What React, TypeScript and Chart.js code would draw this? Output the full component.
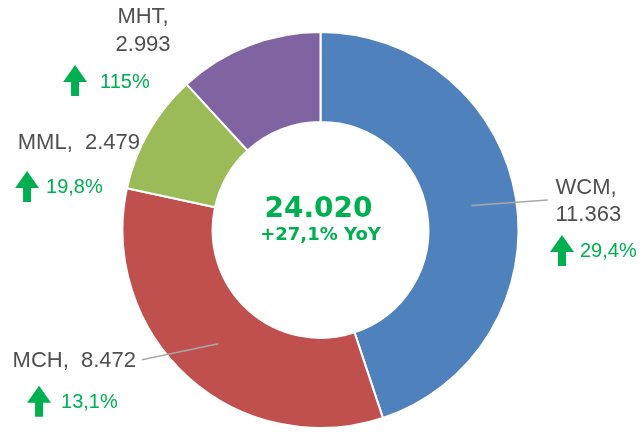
import React, { useEffect, useRef } from 'react';
import { Chart, registerables } from 'chart.js';

Chart.register(...registerables);

const categories = ['WCM', 'MCH', 'MML', 'MHT'];
const values = [11363, 8472, 2479, 2993];
const growthLabels = ['29,4%', '13,1%', '19,8%', '115%'];
const totalLabel = '24.020';
const yoyLabel = '+27,1% YoY';
const colors = ['#4F81BD', '#C0504D', '#9BBB59', '#8064A2'];

const GREEN = '#00B050';
const TEXT = '#4f4f4f';
const LABEL_FONT = '22px "Liberation Sans", Arial, sans-serif';
const PCT_FONT = '20px "Liberation Sans", Arial, sans-serif';

function fmt(v: number): string {
  return String(v).replace(/\B(?=(\d{3})+(?!\d))/g, '.');
}

type Layout = {
  twoLines: boolean;
  align: CanvasTextAlign;
  tx: number;
  ty: number[];
  line?: [number, number];
  arrow: [number, number];
  pct: [number, number];
};

// label placement, offsets relative to each slice's centroid
const labelLayout: Layout[] = [
  { twoLines: true, align: 'left', tx: 84, ty: [-17.5, 9.5], line: [76.5, -5.5], arrow: [78.5, 29.5], pct: [108.5, 46] },
  { twoLines: false, align: 'right', tx: -82.3, ty: [17], line: [-76.3, 16], arrow: [-191.3, 42], pct: [-157.3, 59] },
  { twoLines: false, align: 'right', tx: -47.7, ty: [-11], arrow: [-172.7, 17], pct: [-141.7, 33.5] },
  { twoLines: true, align: 'center', tx: -121.9, ty: [-70.4, -42.4], arrow: [-201.9, -22.4], pct: [-164.9, -5.4] },
];

function drawArrow(ctx: CanvasRenderingContext2D, ax: number, ay: number) {
  const w = 24, hh = 17, h = 31, sw = 8;
  ctx.beginPath();
  ctx.moveTo(ax + w / 2, ay);
  ctx.lineTo(ax + w, ay + hh);
  ctx.lineTo(ax + w / 2 + sw / 2, ay + hh);
  ctx.lineTo(ax + w / 2 + sw / 2, ay + h);
  ctx.lineTo(ax + w / 2 - sw / 2, ay + h);
  ctx.lineTo(ax + w / 2 - sw / 2, ay + hh);
  ctx.lineTo(ax, ay + hh);
  ctx.closePath();
  ctx.fillStyle = GREEN;
  ctx.fill();
}

const labelsPlugin = {
  id: 'customLabels',
  afterDraw(chart: any) {
    const ctx: CanvasRenderingContext2D = chart.ctx;
    const meta = chart.getDatasetMeta(0);
    ctx.save();
    meta.data.forEach((arc: any, i: number) => {
      const L = labelLayout[i];
      const p = arc.tooltipPosition(false);
      const cx = p.x, cy = p.y;
      if (L.line) {
        ctx.beginPath();
        ctx.moveTo(cx, cy);
        ctx.lineTo(cx + L.line[0], cy + L.line[1]);
        ctx.strokeStyle = '#a8a8a8';
        ctx.lineWidth = 1.5;
        ctx.stroke();
      }
      ctx.font = LABEL_FONT;
      ctx.fillStyle = TEXT;
      ctx.textAlign = L.align;
      ctx.textBaseline = 'middle';
      const name = categories[i];
      const val = fmt(values[i]);
      if (L.twoLines) {
        ctx.fillText(name + ',', cx + L.tx, cy + L.ty[0]);
        ctx.fillText(val, cx + L.tx, cy + L.ty[1]);
      } else {
        ctx.fillText(name + ',  ' + val, cx + L.tx, cy + L.ty[0]);
      }
      drawArrow(ctx, cx + L.arrow[0], cy + L.arrow[1]);
      ctx.font = PCT_FONT;
      ctx.fillStyle = GREEN;
      ctx.textAlign = 'left';
      ctx.fillText(growthLabels[i], cx + L.pct[0], cy + L.pct[1]);
    });
    const a0 = meta.data[0];
    if (a0) {
      ctx.textAlign = 'center';
      ctx.textBaseline = 'middle';
      ctx.fillStyle = GREEN;
      ctx.font = 'bold 28px "DejaVu Sans", sans-serif';
      ctx.fillText(totalLabel, a0.x - 2, a0.y - 20.5);
      ctx.font = 'bold 18px "DejaVu Sans", sans-serif';
      ctx.fillText(yoyLabel, a0.x, a0.y + 5.5);
    }
    ctx.restore();
  },
};

export default function App() {
  const ref = useRef<HTMLCanvasElement | null>(null);
  useEffect(() => {
    document.body.style.margin = '0';
    document.body.style.background = '#ffffff';
    if (!ref.current) return;
    const chart = new Chart(ref.current, {
      type: 'doughnut',
      data: {
        labels: categories,
        datasets: [
          {
            data: values,
            backgroundColor: colors,
            borderColor: '#ffffff',
            borderWidth: 2,
          },
        ],
      },
      options: {
        responsive: false,
        animation: false,
        devicePixelRatio: 1,
        cutout: '54.5%',
        layout: { padding: { top: 31, bottom: 3, left: 0, right: 2 } },
        plugins: {
          legend: { display: false },
          tooltip: { enabled: false },
        },
      },
      plugins: [labelsPlugin],
    });
    return () => chart.destroy();
  }, []);
  return (
    <div style={{ width: 643, height: 432, background: '#fff' }}>
      <canvas ref={ref} width={643} height={432} />
    </div>
  );
}
